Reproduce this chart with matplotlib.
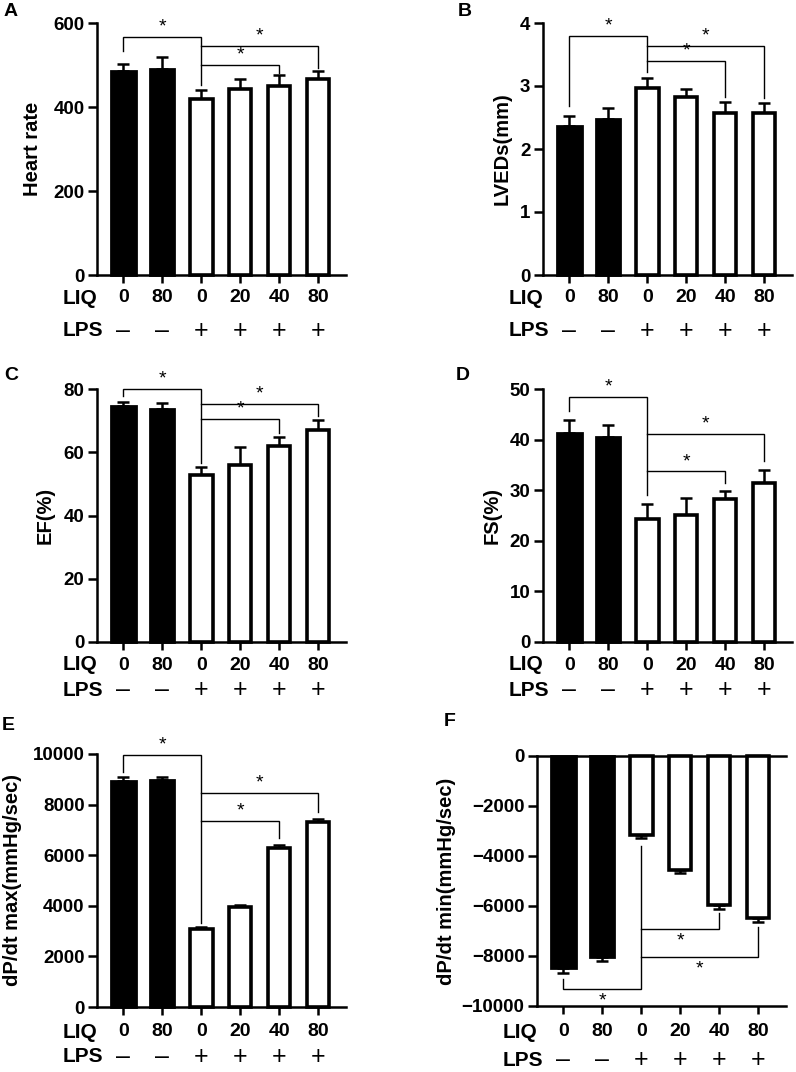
import matplotlib
matplotlib.use('Agg')
import matplotlib.pyplot as plt
from matplotlib.transforms import blended_transform_factory

plt.rcParams['font.family'] = ['Liberation Sans', 'DejaVu Sans']
plt.rcParams['font.weight'] = 'bold'

# ---------------- data ----------------
liq_labels = ['0', '80', '0', '20', '40', '80']
lps_labels = ['\u2013', '\u2013', '+', '+', '+', '+']
filled = [True, True, False, False, False, False]

hr_mean = [485, 491, 420, 443, 451, 467]
hr_err = [17, 27, 21, 24, 24, 18]
lveds_mean = [2.36, 2.48, 2.97, 2.83, 2.57, 2.57]
lveds_err = [0.17, 0.17, 0.15, 0.12, 0.18, 0.16]
ef_mean = [74.6, 73.7, 52.8, 56.1, 62.0, 66.9]
ef_err = [1.4, 1.9, 2.5, 5.7, 2.7, 3.4]
fs_mean = [41.4, 40.6, 24.4, 25.1, 28.3, 31.4]
fs_err = [2.5, 2.3, 2.8, 3.4, 1.6, 2.6]
dpmax_mean = [8950, 8960, 3070, 3960, 6280, 7320]
dpmax_err = [140, 130, 105, 90, 110, 130]
dpmin_mean = [-8490, -8030, -3160, -4560, -5960, -6490]
dpmin_err = [200, 170, 130, 130, 160, 130]

# significance brackets: (from, to, level, left leg end, right leg end)
br_A = [(0, 2, 567, 533, 453), (2, 4, 501, 501, 481), (2, 5, 545, 545, 493)]
br_B = [(0, 2, 3.79, 2.68, 3.23), (2, 4, 3.40, 3.40, 2.83), (2, 5, 3.64, 3.64, 2.81)]
br_C = [(0, 2, 80, 77.7, 56.5), (2, 4, 70.5, 70.5, 66), (2, 5, 75.3, 75.3, 71.5)]
br_D = [(0, 2, 48.5, 45.7, 29.1), (2, 4, 33.7, 33.7, 31.4), (2, 5, 41.1, 41.1, 35.7)]
br_E = [(0, 2, 9960, 9300, 3330), (2, 4, 7350, 7350, 6680), (2, 5, 8470, 8470, 7720)]
br_F = [(0, 2, -9333, -8933, -3600), (2, 4, -6920, -6920, -6260), (2, 5, -8027, -8027, -6853)]

W, H = 796, 1072
fig = plt.figure(figsize=(W / 100, H / 100), dpi=100)

XL = (-0.68, 5.72)


def make_ax(left_px, top_px, bottom_px, width_px):
    return fig.add_axes([left_px / W, 1 - bottom_px / H, width_px / W, (bottom_px - top_px) / H])


def panel(ax, mean, err, ylim, yticks, ylabel, brackets, letter, letter_xy,
          ylabel_px, liq_off, lps_off, negative=False):
    x = list(range(len(mean)))
    for i in x:
        if filled[i]:
            ax.bar(i, mean[i], width=0.62, color='black', edgecolor='black',
                   linewidth=2, zorder=3, clip_on=False)
        else:
            ax.bar(i, mean[i], width=0.58, color='white', edgecolor='black',
                   linewidth=2.6, zorder=3, clip_on=False)
        if negative:
            yerr = [[err[i]], [0]]
        else:
            yerr = [[0], [err[i]]]
        ax.errorbar(i, mean[i], yerr=yerr, fmt='none', ecolor='black',
                    elinewidth=1.8, capsize=4.5, capthick=1.8, zorder=2)
    ax.set_xlim(*XL)
    ax.set_ylim(*ylim)
    ax.set_yticks(yticks)
    ax.set_xticks(x)
    ax.set_xticklabels([])
    ax.spines['right'].set_visible(False)
    if not negative:
        ax.spines['top'].set_visible(False)
    for s in ['left', 'bottom', 'top']:
        ax.spines[s].set_linewidth(1.8)
    ax.tick_params(axis='y', direction='out', length=6.5, width=1.8,
                   labelsize=13.5, pad=2.5)
    ax.tick_params(axis='x', direction='out', length=6, width=1.8)
    # y label
    ax.text(ylabel_px / ax.bbox.width, 0.5, ylabel,
            transform=ax.transAxes, rotation=90, ha='center', va='center',
            fontsize=14.5, fontweight='bold')
    # brackets
    for (i, j, lev, le, re) in brackets:
        ax.plot([i, i, j, j], [le, lev, lev, re], color='black', lw=1.0,
                zorder=4, clip_on=False, solid_joinstyle='miter')
        if negative:
            ax.annotate('*', xy=((i + j) / 2, lev), xytext=(0, -2.5),
                        textcoords='offset points', ha='center', va='top',
                        fontsize=14, fontweight='normal', annotation_clip=False)
        else:
            ax.annotate('*', xy=((i + j) / 2, lev), xytext=(0, 1.0),
                        textcoords='offset points', ha='center', va='bottom',
                        fontsize=14, fontweight='normal', annotation_clip=False)
    # group rows
    tr = blended_transform_factory(ax.transData, ax.transAxes)
    for i in x:
        ax.annotate(liq_labels[i], xy=(i, 0), xycoords=tr,
                    xytext=(0, -liq_off * 0.72), textcoords='offset points',
                    ha='center', va='center', fontsize=14, fontweight='bold',
                    annotation_clip=False)
        ax.annotate(lps_labels[i], xy=(i, 0), xycoords=tr,
                    xytext=(0, -lps_off * 0.72), textcoords='offset points',
                    ha='center', va='center', fontsize=18, fontweight='normal',
                    annotation_clip=False)
    ax.annotate('LIQ', xy=(-1.56, 0), xycoords=tr, xytext=(0, -liq_off * 0.72),
                textcoords='offset points', ha='left', va='center',
                fontsize=15, fontweight='bold', annotation_clip=False)
    ax.annotate('LPS', xy=(-1.56, 0), xycoords=tr, xytext=(0, -lps_off * 0.72),
                textcoords='offset points', ha='left', va='center',
                fontsize=15, fontweight='bold', annotation_clip=False)
    fig.text(letter_xy[0] / W, 1 - letter_xy[1] / H, letter, ha='left', va='center',
             fontsize=14, fontweight='bold')


axA = make_ax(97, 23, 275, 249)
axB = make_ax(543, 23, 275, 249)
axC = make_ax(97, 389, 642, 249)
axD = make_ax(543, 389, 642, 249)
axE = make_ax(97, 754, 1007, 249)
axF = make_ax(537, 756, 1006, 249)

panel(axA, hr_mean, hr_err, (0, 600), [0, 200, 400, 600], 'Heart rate', br_A,
      'A', (4, 11), -64, 23, 56)
panel(axB, lveds_mean, lveds_err, (0, 4), [0, 1, 2, 3, 4], 'LVEDs(mm)', br_B,
      'B', (458, 11), -41, 23, 56)
panel(axC, ef_mean, ef_err, (0, 80), [0, 20, 40, 60, 80], 'EF(%)', br_C,
      'C', (4, 375), -52, 23, 48)
panel(axD, fs_mean, fs_err, (0, 50), [0, 10, 20, 30, 40, 50], 'FS(%)', br_D,
      'D', (456, 375), -51, 23, 48)
panel(axE, dpmax_mean, dpmax_err, (0, 10000), [0, 2000, 4000, 6000, 8000, 10000],
      'dP/dt max(mmHg/sec)', br_E, 'E', (2, 725), -84, 25, 50)
panel(axF, dpmin_mean, dpmin_err, (-10000, 0), [-10000, -8000, -6000, -4000, -2000, 0],
      'dP/dt min(mmHg/sec)', br_F, 'F', (444, 722), -90, 26, 54, negative=True)
axF.tick_params(axis='x', top=False)

fig.savefig('out.png', dpi=100)
